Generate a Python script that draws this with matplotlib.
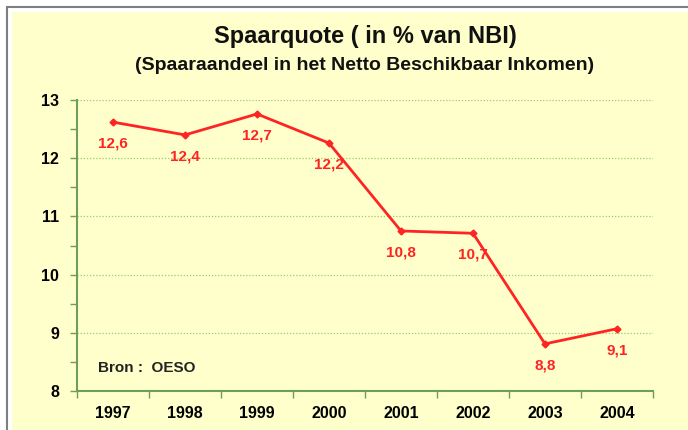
import matplotlib
matplotlib.use("Agg")
import matplotlib.pyplot as plt
from matplotlib.patches import Rectangle
from matplotlib.ticker import MultipleLocator, FixedLocator

years = ["1997", "1998", "1999", "2000", "2001", "2002", "2003", "2004"]
values = [12.62, 12.40, 12.76, 12.26, 10.75, 10.71, 8.81, 9.07]
labels = ["12,6", "12,4", "12,7", "12,2", "10,8", "10,7", "8,8", "9,1"]
yticks = [8, 9, 10, 11, 12, 13]

plt.rcParams['font.family'] = ['Liberation Sans', 'DejaVu Sans']

bg = "#FFFFCC"
green = "#6E9E5A"
red = "#FF2424"

fig = plt.figure(figsize=(6.88, 4.30), dpi=100)
fig.patch.set_facecolor("white")
# yellow panel with grey frame
fig.patches.append(Rectangle((12/688, 0), 1, 1 - 12/430, transform=fig.transFigure,
                             facecolor=bg, edgecolor="none", zorder=-10))
fig.patches.append(Rectangle((7/688, -0.1), 1, 1.1 - 7/430, transform=fig.transFigure,
                             facecolor="none", edgecolor="#7F7F7F", linewidth=1.5, zorder=-9))

ax = fig.add_axes([77/688, 39/430, (653-77)/688, (391-100)/430])
ax.set_facecolor(bg)
x = list(range(len(years)))
ax.plot(x, values, color=red, linewidth=2, marker='D', markersize=3.5, zorder=3)
for xi, v, lab in zip(x, values, labels):
    ax.annotate(lab, (xi, v), xytext=(0, -10.5), textcoords='offset points',
                ha='center', va='top', color=red, fontsize=11, fontweight='bold')

ax.set_xlim(-0.5, len(years) - 0.5)
ax.set_ylim(8, 13)
ax.yaxis.set_major_locator(FixedLocator(yticks))
ax.yaxis.set_minor_locator(MultipleLocator(0.5))
ax.set_yticklabels([str(t) for t in yticks], fontweight='bold', fontsize=11.5)
ax.xaxis.set_major_locator(FixedLocator([i + 0.5 for i in range(-1, len(years))]))
ax.xaxis.set_major_formatter(plt.NullFormatter())
ax.xaxis.set_minor_locator(FixedLocator(x))
ax.set_xticklabels(years, minor=True, fontweight='bold', fontsize=11.5)
ax.tick_params(axis='x', which='minor', length=0, pad=11)
ax.tick_params(axis='x', which='major', length=5, color=green, width=1)
ax.tick_params(axis='y', which='both', length=5, color=green, width=1, pad=8)

for s in ['top', 'right']:
    ax.spines[s].set_visible(False)
for s in ['left', 'bottom']:
    ax.spines[s].set_color(green)
    ax.spines[s].set_linewidth(1.5)

for t in yticks[1:]:
    ax.axhline(t, color="#9CCB6A", linestyle=(0, (1, 1.5)), linewidth=0.9, zorder=1)

ax.text(0.036, 0.079, "Bron :  OESO", transform=ax.transAxes, fontsize=11,
        fontweight='bold', color="#222222", ha='left', va='center')

fig.text(365/688, 1 - 37/430, "Spaarquote ( in % van NBI)", ha='center', va='center',
         fontsize=17, fontweight='bold', color="#111111")
fig.text(365/688, 1 - 65/430, "(Spaaraandeel in het Netto Beschikbaar Inkomen)",
         ha='center', va='center', fontsize=14, fontweight='bold', color="#111111")

fig.savefig("out.png", dpi=100, facecolor=fig.get_facecolor())
